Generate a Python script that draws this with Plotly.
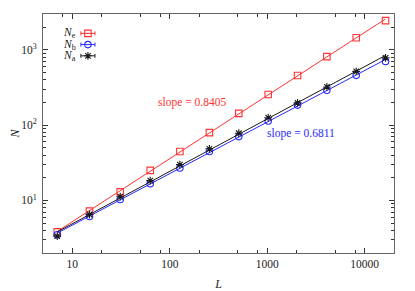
import numpy as np
import plotly.graph_objects as go

L = [7, 15, 31, 63, 127, 255, 511, 1023, 2047, 4095, 8191, 16383]
N_e = [3.82, 7.2, 13.0, 25.1, 44.6, 79.6, 143.6, 256, 456, 815, 1452, 2450]
N_b = [3.5, 6.1, 10.3, 16.7, 27.0, 44.6, 70.5, 113.5, 184.6, 291, 459, 703]
N_a = [3.35, 6.5, 11.2, 18.3, 29.9, 48.5, 78, 125.6, 198, 322, 519, 783]
slope_labels = ["slope = 0.8405", "slope = 0.6811"]
x_ticks = [10, 100, 1000, 10000]
y_ticks = [10, 100, 1000]

FONT = "Liberation Serif"
RED, BLUE, BLACK = "rgb(255,50,50)", "rgb(40,40,255)", "rgb(25,25,25)"
series = [
    (N_e, RED, "square-open", 6.5, "<i>N</i><sub>e</sub>"),
    (N_b, BLUE, "circle-open", 6.5, "<i>N</i><sub>b</sub>"),
    (N_a, BLACK, "asterisk-open", 6.5, "<i>N</i><sub>a</sub>"),
]

fig = go.Figure()
Lx = np.array(L, dtype=float)
# key layout (fractions of the plot area, on a hidden overlay axis)
key_x, key_half, key_y0, key_dy = 0.128, 0.02, 0.919, 0.047
for i, (ys, col, sym, msize, name) in enumerate(series):
    p = np.polyfit(np.log10(Lx), np.log10(np.array(ys)), 1)
    fit = 10 ** p[1] * Lx ** p[0]
    fig.add_trace(go.Scatter(x=L, y=fit, mode="lines", line=dict(color=col, width=1),
                             showlegend=False, hoverinfo="skip"))
    fig.add_trace(go.Scatter(x=L, y=ys, mode="markers", name=name, showlegend=False,
                             marker=dict(symbol=sym, size=msize, color=col,
                                         line=dict(color=col, width=1.1))))
    ky = key_y0 - i * key_dy
    fig.add_trace(go.Scatter(x=[key_x], y=[ky], xaxis="x2", yaxis="y2", mode="markers",
                             showlegend=False, hoverinfo="skip",
                             marker=dict(symbol=sym, size=msize, color=col,
                                         line=dict(color=col, width=1.1)),
                             error_x=dict(type="constant", value=key_half, color=col,
                                          thickness=1, width=2)))
    fig.add_annotation(x=key_x - key_half - 0.01, y=ky, xref="x2", yref="y2",
                       text=name, showarrow=False, xanchor="right", yanchor="middle",
                       borderpad=0, font=dict(family=FONT, size=11.5, color="#222"))

fig.add_annotation(x=np.log10(170), y=np.log10(200), text=slope_labels[0], showarrow=False,
                   font=dict(family=FONT, size=11.5, color=RED))
fig.add_annotation(x=np.log10(2200), y=np.log10(78), text=slope_labels[1], showarrow=False,
                   font=dict(family=FONT, size=11.5, color=BLUE))

axis_common = dict(type="log", showgrid=False, zeroline=False, showline=True, automargin=False,
                   linecolor="#666", linewidth=1, mirror="ticks", ticks="inside",
                   ticklen=5, tickcolor="#333", tickfont=dict(family=FONT, size=11.5, color="#222"))

xaxis = dict(**axis_common, range=[np.log10(5), np.log10(20000)],
             tickvals=x_ticks, ticktext=[str(v) for v in x_ticks],
             minor=dict(ticks="inside", ticklen=3, tickcolor="#333",
                        tickvals=[8, 20, 50, 80, 200, 500, 800, 2000, 5000, 8000]),
             title=dict(text="<i>L</i>", font=dict(family=FONT, size=12, color="#222"), standoff=12))
yaxis = dict(**axis_common, range=[np.log10(2), np.log10(3000)],
             tickvals=y_ticks, ticktext=["10<sup>1</sup>", "10<sup>2</sup>", "10<sup>3</sup>"],
             ticklabelstandoff=3,
             minor=dict(ticks="inside", ticklen=3, tickcolor="#333", dtick="D1"),
             title=dict(text="<i>N</i>", font=dict(family=FONT, size=12, color="#222"), standoff=9))

# the page body has an 8px margin, so the figure is sized to fit the 415x291 window
fig.update_layout(
    width=407, height=283,
    margin=dict(l=35, r=21, t=6, b=38, autoexpand=False),
    paper_bgcolor="white", plot_bgcolor="white",
    font=dict(family=FONT, size=12, color="#222"),
    showlegend=False,
    xaxis=xaxis, yaxis=yaxis,
    xaxis2=dict(overlaying="x", range=[0, 1], visible=False, fixedrange=True, anchor="y2"),
    yaxis2=dict(overlaying="y", range=[0, 1], visible=False, fixedrange=True, anchor="x2"),
)
fig.write_html("out.html")
